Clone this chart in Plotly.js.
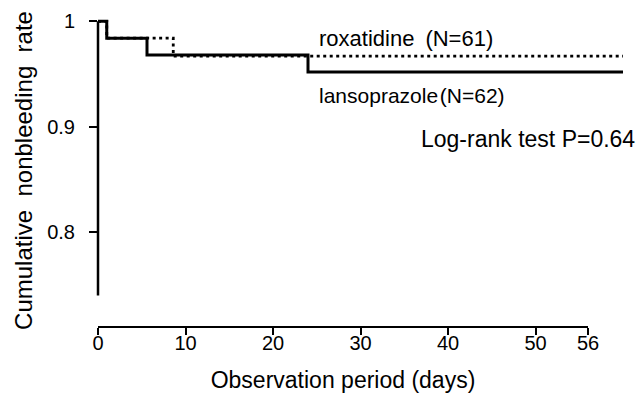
<!DOCTYPE html>
<html>
<head>
<meta charset="utf-8">
<script src="https://cdn.plot.ly/plotly-3.0.1.min.js"></script>
<style>html,body{margin:0;padding:0;background:#fff;}#chart{width:636px;height:393px;}</style>
</head>
<body>
<div id="chart"></div>
<script>
// Kaplan-Meier step data (days, cumulative nonbleeding rate)
const lansoDays = [0, 1, 5.6, 24, 60];
const lansoRate = [1, 0.984, 0.968, 0.952, 0.952];
const roxDays = [0, 1, 8.6, 60];
const roxRate = [1, 0.984, 0.967, 0.967];
const xTickVals = [0, 10, 20, 30, 40, 50, 56];
const xTickText = ['0', '10', '20', '30', '40', '50', '56'];
const yTickVals = [0.8, 0.9, 1];
const yTickText = ['0.8', '0.9', '1'];
const xAxisMax = 56;     // labelled axis ends here
const followUpMax = 60;  // curves run on past the axis end
const yAxisLineFrom = 0.74;
const yAxisLineTo = 1.0;
const labelRox = 'roxatidine\u2002(N=61)';
const labelLanso = 'lansoprazole\u200a(N=62)';
const labelTest = 'Log-rank test P=0.64';

const FONT = "Arial, 'Liberation Sans', 'Noto Sans CJK JP', sans-serif";

const traces = [
  // empty trace so that the labelled 0-56 axis subplot is created
  {x: [], y: [], xaxis: 'x', yaxis: 'y', type: 'scatter', mode: 'lines', hoverinfo: 'skip', showlegend: false},
  {x: lansoDays, y: lansoRate, xaxis: 'x2', yaxis: 'y', type: 'scatter', mode: 'lines', line: {shape: 'hv', color: '#000', width: 3}, name: 'lansoprazole', showlegend: false},
  {x: roxDays, y: roxRate, xaxis: 'x2', yaxis: 'y', type: 'scatter', mode: 'lines', line: {shape: 'hv', color: '#000', width: 2.8, dash: '3px,3.5px'}, name: 'roxatidine', showlegend: false}
];

const layout = {
  width: 636, height: 393,
  margin: {l: 98, r: 13, t: 15, b: 67},
  paper_bgcolor: '#fff', plot_bgcolor: '#fff',
  font: {family: FONT, color: '#000', size: 20},
  showlegend: false,
  xaxis: {
    domain: [0, xAxisMax / followUpMax], anchor: 'y',
    range: [0, xAxisMax], tickvals: xTickVals, ticktext: xTickText,
    showline: true, linecolor: '#000', linewidth: 2.2,
    ticks: 'outside', ticklen: 7, tickwidth: 2, tickcolor: '#000',
    ticklabelstandoff: -9,
    showgrid: false, zeroline: false,
    tickfont: {size: 20, family: FONT},
    title: {text: 'Observation period (days)', font: {size: 23, family: FONT}, standoff: 24}
  },
  xaxis2: {
    domain: [0, 1], anchor: 'y', range: [0, followUpMax], visible: false,
    showgrid: false, zeroline: false
  },
  yaxis: {
    anchor: 'x',
    range: [0.711, 1.006], tickvals: yTickVals, ticktext: yTickText,
    showline: false, ticks: 'outside', ticklen: 8, tickwidth: 2, tickcolor: '#000',
    ticklabelstandoff: 10,
    showgrid: false, zeroline: false,
    tickfont: {size: 20, family: FONT},
    title: {text: 'Cumulative&nbsp; nonbleeding&nbsp; rate', font: {size: 24, family: FONT}, standoff: 7}
  },
  shapes: [
    {type: 'line', xref: 'paper', yref: 'y', x0: 0, x1: 0, y0: yAxisLineFrom, y1: yAxisLineTo, line: {color: '#000', width: 2.5}}
  ],
  annotations: [
    {text: labelRox, xref: 'paper', yref: 'paper', x: (317 - 98) / 525, y: (393 - 67 - 38) / 311, xanchor: 'left', yanchor: 'middle', showarrow: false, font: {size: 22, family: FONT}},
    {text: labelLanso, xref: 'paper', yref: 'paper', x: (317 - 98) / 525, y: (393 - 67 - 96) / 311, xanchor: 'left', yanchor: 'middle', showarrow: false, font: {size: 21, family: FONT}},
    {text: labelTest, xref: 'paper', yref: 'paper', x: (419 - 98) / 525, y: (393 - 67 - 139) / 311, xanchor: 'left', yanchor: 'middle', showarrow: false, font: {size: 23, family: FONT}}
  ]
};

Plotly.newPlot('chart', traces, layout, {displayModeBar: false, staticPlot: true});
</script>
</body>
</html>
